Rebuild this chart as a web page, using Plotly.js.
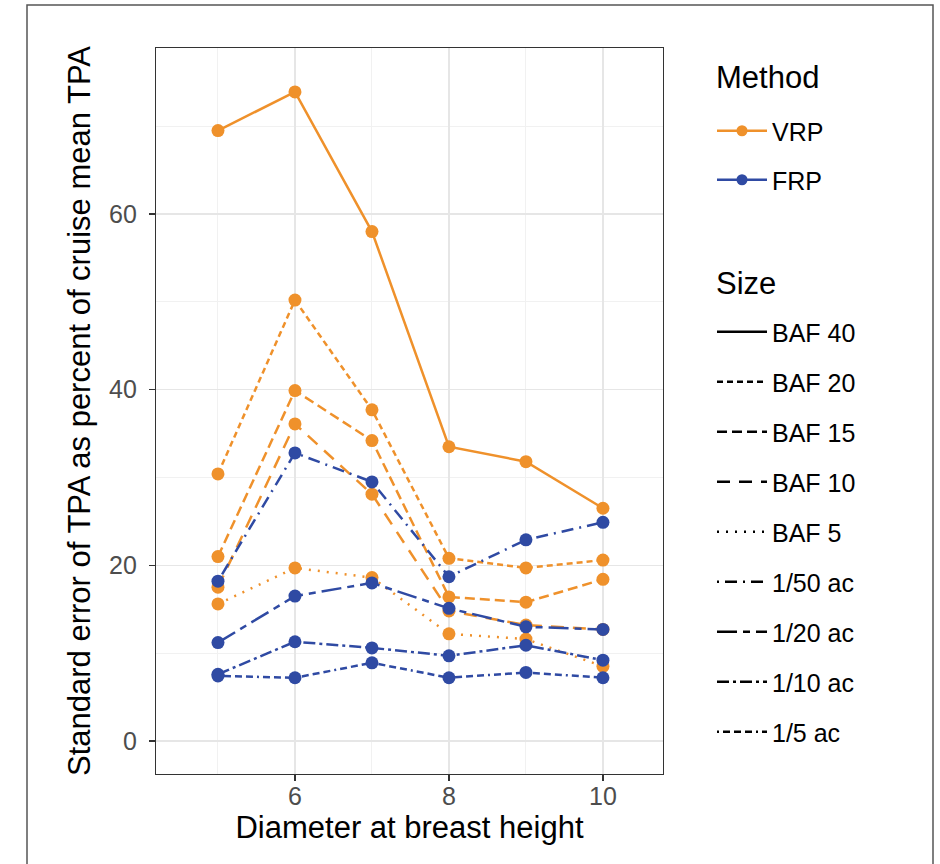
<!DOCTYPE html>
<html>
<head>
<meta charset="utf-8">
<script src="https://cdn.plot.ly/plotly-3.0.1.min.js"></script>
<style>
html,body{margin:0;padding:0;background:#fff;}
#chart{width:940px;height:864px;}
</style>
</head>
<body>
<div id="chart"></div>
<script>
// Diameter at breast height (x values)
const dbh = [5, 6, 7, 8, 9, 10];

// VRP (variable radius plots) series
const vrpBAF40 = [69.5, 73.9, 58.0, 33.5, 31.8, 26.5];
const vrpBAF20 = [30.4, 50.2, 37.7, 20.8, 19.7, 20.6];
const vrpBAF15 = [21.0, 39.9, 34.2, 16.4, 15.8, 18.4];
const vrpBAF10 = [17.5, 36.1, 28.1, 14.8, 13.2, 12.7];
const vrpBAF5  = [15.6, 19.7, 18.6, 12.2, 11.6, 8.5];

// FRP (fixed radius plots) series
const frp50 = [18.2, 32.8, 29.5, 18.7, 22.9, 24.9];
const frp20 = [11.2, 16.5, 18.0, 15.1, 13.0, 12.7];
const frp10 = [7.6, 11.3, 10.6, 9.7, 10.9, 9.2];
const frp5  = [7.4, 7.2, 8.9, 7.2, 7.8, 7.2];

const methodNames = ["VRP", "FRP"];
const sizeNames = ["BAF 40", "BAF 20", "BAF 15", "BAF 10", "BAF 5", "1/50 ac", "1/20 ac", "1/10 ac", "1/5 ac"];

const ORANGE = "#EF912B";
const BLUE = "#2F4AA3";
const dashes = {
  "BAF 40": "solid",
  "BAF 20": "6px,4px",
  "BAF 15": "10px,5px",
  "BAF 10": "13px,9px",
  "BAF 5": "2px,7px",
  "1/50 ac": "2px,6px,12px,6px",
  "1/20 ac": "20px,6px,7px,6px",
  "1/10 ac": "12px,4px,3px,4px",
  "1/5 ac": "2px,4px,7px,4px,7px,4px,7px,4px"
};

const series = [
  {name: "BAF 40", y: vrpBAF40, color: ORANGE},
  {name: "BAF 20", y: vrpBAF20, color: ORANGE},
  {name: "BAF 15", y: vrpBAF15, color: ORANGE},
  {name: "BAF 10", y: vrpBAF10, color: ORANGE},
  {name: "BAF 5",  y: vrpBAF5,  color: ORANGE},
  {name: "1/50 ac", y: frp50, color: BLUE},
  {name: "1/20 ac", y: frp20, color: BLUE},
  {name: "1/10 ac", y: frp10, color: BLUE},
  {name: "1/5 ac",  y: frp5,  color: BLUE}
];

const traces = series.map(s => ({
  type: "scatter", mode: "lines+markers", x: dbh, y: s.y, name: s.name,
  line: {color: s.color, width: 2.5, dash: dashes[s.name]},
  marker: {color: s.color, size: 13},
  showlegend: false, hoverinfo: "x+y+name"
}));

// Method legend entries
[ORANGE, BLUE].forEach((c, i) => {
  traces.push({
    type: "scatter", mode: "lines+markers", x: [null], y: [null], name: methodNames[i],
    line: {color: c, width: 2.5}, marker: {color: c, size: 11},
    legend: "legend", legendgroup: "m" + i, showlegend: true
  });
});
// Size legend entries
sizeNames.forEach((n, i) => {
  traces.push({
    type: "scatter", mode: "lines", x: [null], y: [null], name: n,
    line: {color: "#000", width: 2.5, dash: dashes[n]},
    legend: "legend2", legendgroup: "s" + i, showlegend: true
  });
});

const FONT = "Liberation Sans, Arial, sans-serif";
const plotL = 156, plotR = 663, plotT = 48, plotB = 774;
const pw = plotR - plotL, ph = plotB - plotT;
const px2x = v => (v - plotL) / pw;
const px2y = v => (plotB - v) / ph;

const layout = {
  width: 940, height: 864,
  margin: {l: plotL, r: 940 - plotR, t: plotT, b: 864 - plotB},
  paper_bgcolor: "#fff", plot_bgcolor: "#fff",
  font: {family: FONT, color: "#000"},
  xaxis: {
    range: [4.195, 10.78], tick0: 0, dtick: 2,
    showgrid: true, gridcolor: "#e6e6e6", gridwidth: 1.5,
    minor: {dtick: 1, showgrid: true, gridcolor: "#f1f1f1", gridwidth: 1},
    zeroline: false, showline: true, mirror: true, linecolor: "#333", linewidth: 1.2,
    ticks: "outside", ticklen: 6, tickwidth: 1.5, tickcolor: "#333",
    ticklabelstandoff: -6,
    tickfont: {size: 25, color: "#4d4d4d", family: FONT},
    title: {text: "Diameter at breast height", font: {size: 31, color: "#000", family: FONT}, standoff: 7}
  },
  yaxis: {
    range: [-3.76, 78.9], tick0: 0, dtick: 20,
    showgrid: true, gridcolor: "#e6e6e6", gridwidth: 1.5,
    minor: {dtick: 10, showgrid: true, gridcolor: "#f1f1f1", gridwidth: 1},
    zeroline: false, showline: true, mirror: true, linecolor: "#333", linewidth: 1.2,
    ticks: "outside", ticklen: 6, tickwidth: 1.5, tickcolor: "#333",
    ticklabelstandoff: 7,
    tickfont: {size: 25, color: "#4d4d4d", family: FONT},
    title: {text: "Standard error of TPA as percent of cruise mean TPA", font: {size: 31, color: "#000", family: FONT}, standoff: 9}
  },
  legend: {
    x: px2x(712), y: px2y(108), xanchor: "left", yanchor: "top",
    font: {size: 25, family: FONT, color: "#000"},
    tracegroupgap: 13.5, bgcolor: "rgba(0,0,0,0)", itemwidth: 50
  },
  legend2: {
    x: px2x(712), y: px2y(309), xanchor: "left", yanchor: "top",
    font: {size: 25, family: FONT, color: "#000"},
    tracegroupgap: 14.5, bgcolor: "rgba(0,0,0,0)", itemwidth: 50
  },
  annotations: [
    {text: "Method", xref: "paper", yref: "paper", x: px2x(714), y: px2y(78), xanchor: "left", yanchor: "middle",
     showarrow: false, font: {size: 31, family: FONT, color: "#000"}},
    {text: "Size", xref: "paper", yref: "paper", x: px2x(714), y: px2y(283), xanchor: "left", yanchor: "middle",
     showarrow: false, font: {size: 31, family: FONT, color: "#000"}}
  ],
  shapes: [{
    type: "rect", xref: "paper", yref: "paper",
    x0: px2x(27), x1: px2x(933), y0: px2y(880), y1: px2y(5),
    line: {color: "#555", width: 1.5}, fillcolor: "rgba(0,0,0,0)", layer: "above"
  }],
  showlegend: true
};

Plotly.newPlot("chart", traces, layout, {displayModeBar: false, staticPlot: true});
</script>
</body>
</html>
